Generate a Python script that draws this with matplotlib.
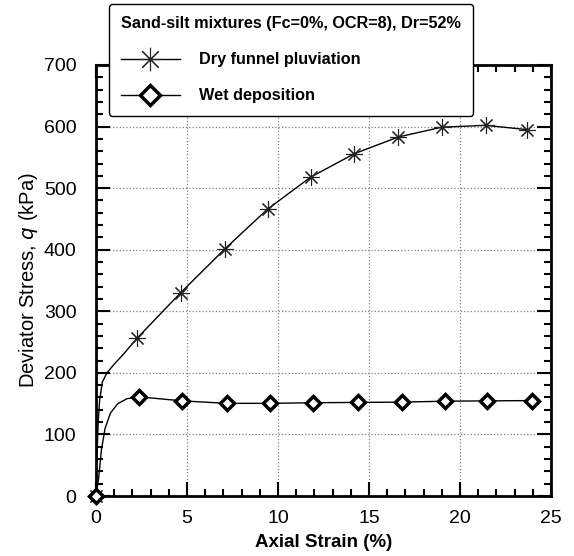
import numpy as np
import matplotlib.pyplot as plt
from matplotlib.ticker import MultipleLocator

plt.rcParams['font.family'] = ['Liberation Sans', 'DejaVu Sans']

# Dry funnel pluviation: curve points
dry_strain = [0.0, 0.05, 0.12, 0.2, 0.35, 0.6, 1.0, 1.5, 2.25, 4.65, 7.07, 9.43,
              11.8, 14.2, 16.6, 19.0, 21.4, 23.7]
dry_q = [0, 60, 120, 155, 185, 200, 214, 230, 256, 330, 401, 466,
         518, 556, 583, 599, 602, 595]
dry_marks = [0, 8, 9, 10, 11, 12, 13, 14, 15, 16, 17]

# Wet deposition
wet_strain = [0.0, 0.15, 0.3, 0.5, 0.8, 1.2, 1.7, 2.36, 4.75, 7.18, 9.58,
              11.95, 14.4, 16.8, 19.2, 21.5, 23.97]
wet_q = [0, 30, 75, 110, 135, 150, 158, 161, 154.5, 150.5, 150.5,
         151.5, 152, 152.5, 154, 154.5, 155]
wet_marks = [0, 7, 8, 9, 10, 11, 12, 13, 14, 15, 16]

fig = plt.figure(figsize=(5.74, 5.56), dpi=100)
ax = fig.add_axes([0.1672, 0.1079, 0.7928, 0.7752])

ax.plot(dry_strain, dry_q, color='black', lw=1.0, marker=(8, 2, 0),
        markersize=12, markeredgewidth=0.8, markeredgecolor='#222222',
        markevery=dry_marks, clip_on=False, zorder=3,
        label='Dry funnel pluviation')
ax.plot(wet_strain, wet_q, color='black', lw=1.0, marker='D',
        markersize=7, markerfacecolor='white', markeredgecolor='black',
        markeredgewidth=2.5, markevery=wet_marks, clip_on=False, zorder=3,
        label='Wet deposition')

ax.set_xlim(0, 25)
ax.set_ylim(0, 700)
ax.xaxis.set_major_locator(MultipleLocator(5))
ax.xaxis.set_minor_locator(MultipleLocator(1))
ax.yaxis.set_major_locator(MultipleLocator(100))
ax.yaxis.set_minor_locator(MultipleLocator(20))
ax.tick_params(which='both', direction='in', top=True, right=True,
               labelsize=14, width=1.5)
ax.tick_params(which='major', length=10)
ax.tick_params(which='minor', length=5)
ax.tick_params(axis='x', which='major', pad=10)
ax.tick_params(axis='y', which='major', pad=14)
for s in ax.spines.values():
    s.set_linewidth(2)

ax.grid(True, which='major', color='gray', linestyle=':', linewidth=0.9)
ax.set_axisbelow(True)

ax.set_xlabel('Axial Strain (%)', fontsize=13.5, fontweight='bold', labelpad=5)
ax.set_ylabel('Deviator Stress, $\\mathit{q}$ (kPa)', fontsize=14.5, labelpad=3)

leg = fig.legend(loc='upper left', bbox_to_anchor=(0.19, 0.993),
                 title='Sand-silt mixtures (Fc=0%, OCR=8), Dr=52%',
                 prop={'weight': 'bold', 'size': 11.7},
                 title_fontproperties={'weight': 'bold', 'size': 11.7},
                 handlelength=3.6, handletextpad=1.2, labelspacing=1.3,
                 borderpad=0.75, borderaxespad=0, fancybox=True, framealpha=1,
                 edgecolor='black', markerscale=1.4, alignment='left')
leg.get_frame().set_linewidth(1.0)

fig.savefig('out.png', dpi=100)
